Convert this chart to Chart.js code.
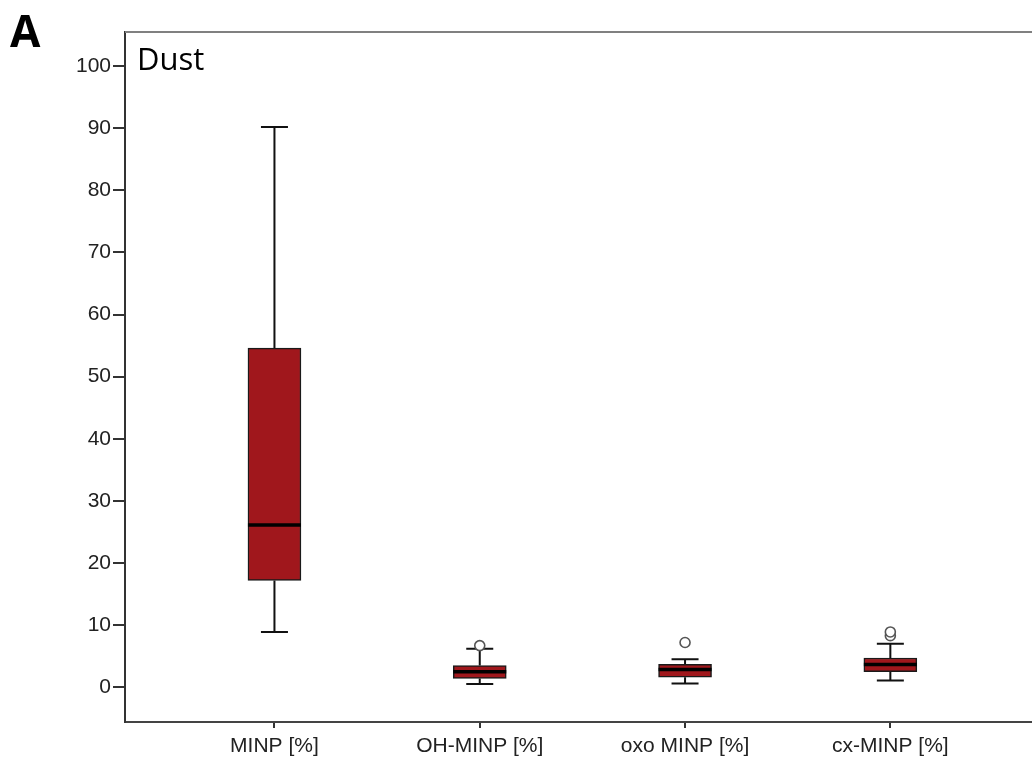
<!DOCTYPE html>
<html>
<head>
<meta charset="utf-8">
<script src="https://cdn.jsdelivr.net/npm/chart.js@4.4.0/dist/chart.umd.min.js"></script>
<style>
  html, body { margin: 0; padding: 0; background: #fff; }
  #wrap { position: relative; width: 1032px; height: 769px; }
  canvas { display: block; }
  #panel { position: absolute; left: 10px; top: 0px; font: bold 44px "Open Sans", "Liberation Sans", sans-serif; color: #000; }
  #dust { position: absolute; left: 137px; top: 37px; font: 31px "Open Sans", "Liberation Sans", sans-serif; color: #000; }
</style>
</head>
<body>
<div id="wrap">
  <canvas id="c" width="1032" height="769"></canvas>
  <div id="panel">A</div>
  <div id="dust">Dust</div>
</div>
<script>
const categories = ['MINP [%]', 'OH-MINP [%]', 'oxo MINP [%]', 'cx-MINP [%]'];
const mins    = [8.9, 0.5, 0.6, 1.1];
const q1s     = [17.2, 1.4, 1.6, 2.5];
const medians = [26.1, 2.5, 2.85, 3.65];
const q3s     = [54.6, 3.5, 3.7, 4.7];
const maxs    = [90.2, 6.2, 4.5, 7.0];
const outliers = [[], [6.7], [7.2], [8.3, 8.9]];
const yTicks = [0, 10, 20, 30, 40, 50, 60, 70, 80, 90, 100];

const boxData = categories.map((c, i) => ({ x: i, y: [q1s[i], q3s[i]] }));
const outlierData = [];
outliers.forEach((arr, i) => arr.forEach(v => outlierData.push({ x: i, y: v })));

const boxPlugin = {
  id: 'boxParts',
  beforeDatasetsDraw(chart) {
    const ctx = chart.ctx, xs = chart.scales.x, ys = chart.scales.y;
    ctx.save();
    ctx.strokeStyle = '#111';
    ctx.lineWidth = 2;
    const cap = 13.5;
    categories.forEach((c, i) => {
      const x = xs.getPixelForValue(i);
      const yMin = ys.getPixelForValue(mins[i]);
      const yQ1 = ys.getPixelForValue(q1s[i]);
      const yQ3 = ys.getPixelForValue(q3s[i]);
      const yMax = ys.getPixelForValue(maxs[i]);
      ctx.beginPath();
      ctx.moveTo(x, yQ3); ctx.lineTo(x, yMax);
      ctx.moveTo(x - cap, yMax); ctx.lineTo(x + cap, yMax);
      ctx.moveTo(x, yQ1); ctx.lineTo(x, yMin);
      ctx.moveTo(x - cap, yMin); ctx.lineTo(x + cap, yMin);
      ctx.stroke();
    });
    ctx.restore();
  },
  afterDatasetsDraw(chart) {
    const ctx = chart.ctx, xs = chart.scales.x, ys = chart.scales.y, a = chart.chartArea;
    ctx.save();
    ctx.strokeStyle = '#000';
    ctx.lineWidth = 3.5;
    const half = 26.5;
    categories.forEach((c, i) => {
      const x = xs.getPixelForValue(i);
      const y = ys.getPixelForValue(medians[i]);
      ctx.beginPath();
      ctx.moveTo(x - half, y); ctx.lineTo(x + half, y);
      ctx.stroke();
    });
    ctx.strokeStyle = '#808080';
    ctx.lineWidth = 2;
    ctx.beginPath();
    ctx.moveTo(a.left, a.top); ctx.lineTo(chart.width, a.top);
    ctx.stroke();
    ctx.restore();
  }
};

new Chart(document.getElementById('c'), {
  data: {
    datasets: [
      {
        type: 'bar',
        data: boxData,
        backgroundColor: '#A0171C',
        borderColor: '#1a1a1a',
        borderWidth: 1.5,
        borderSkipped: false,
        barThickness: 53,
        order: 2
      },
      {
        type: 'scatter',
        data: outlierData,
        pointStyle: 'circle',
        pointRadius: 5,
        pointBackgroundColor: '#fff',
        pointBorderColor: '#555',
        pointBorderWidth: 1.6,
        order: 1
      }
    ]
  },
  options: {
    responsive: false,
    animation: false,
    events: [],
    layout: { autoPadding: false, padding: { left: 0, right: 0, top: 32, bottom: 0 } },
    plugins: { legend: { display: false }, tooltip: { enabled: false } },
    scales: {
      x: {
        type: 'linear',
        offset: false,
        min: -0.728,
        max: 3.69,
        afterBuildTicks: s => { s.ticks = categories.map((c, i) => ({ value: i })); },
        afterFit: s => { s.height = 47; s.paddingRight = 0; s.paddingLeft = 0; },
        ticks: {
          callback: v => categories[v],
          autoSkip: false,
          maxRotation: 0,
          padding: 6,
          color: '#222',
          font: { family: '"Liberation Sans", Arial, sans-serif', size: 21 }
        },
        grid: { offset: false, drawOnChartArea: false, drawTicks: true, tickLength: 6, color: '#333', lineWidth: 2 },
        border: { display: true, color: '#444', width: 2 }
      },
      y: {
        type: 'linear',
        min: -5.6,
        max: 105.5,
        afterBuildTicks: s => { s.ticks = yTicks.map(v => ({ value: v })); },
        afterFit: s => { s.width = 125; },
        ticks: {
          padding: 2,
          color: '#222',
          font: { family: '"Liberation Sans", Arial, sans-serif', size: 21 }
        },
        grid: { drawOnChartArea: false, drawTicks: true, tickLength: 12, color: '#333', lineWidth: 2 },
        border: { display: true, color: '#333', width: 2 }
      }
    }
  },
  plugins: [boxPlugin]
});
</script>
</body>
</html>
